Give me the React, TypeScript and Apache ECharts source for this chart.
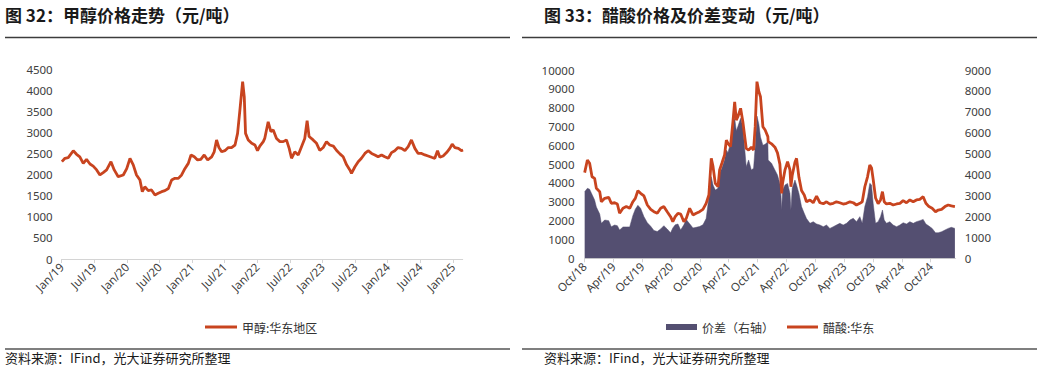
import React, { useEffect, useRef } from "react";
import * as echarts from "echarts";

// ---------- Data: 甲醇:华东地区 (元/吨) ----------
const METHANOL_DATES = [
  "2019-01-02","2019-01-19","2019-02-07","2019-03-05","2019-03-23","2019-04-11","2019-04-30","2019-05-18","2019-06-07","2019-06-25",
  "2019-07-14","2019-08-02","2019-08-20","2019-09-09","2019-10-03","2019-10-21","2019-11-13","2019-12-11","2019-12-30","2020-01-18",
  "2020-02-06","2020-02-24","2020-03-13","2020-03-26","2020-04-10","2020-04-29","2020-05-17","2020-06-06","2020-06-24","2020-07-13",
  "2020-08-01","2020-08-20","2020-09-08","2020-09-26","2020-10-15","2020-11-03","2020-11-21","2020-12-10","2020-12-25","2021-01-13",
  "2021-02-01","2021-02-19","2021-03-08","2021-03-27","2021-04-19","2021-05-03","2021-05-16","2021-05-29","2021-06-14","2021-07-02",
  "2021-07-21","2021-08-09","2021-08-28","2021-09-12","2021-09-25","2021-10-10","2021-10-19","2021-10-26","2021-11-11","2021-11-30",
  "2021-12-18","2022-01-02","2022-01-15","2022-02-04","2022-02-12","2022-03-01","2022-03-16","2022-03-29","2022-04-17","2022-05-06",
  "2022-05-24","2022-06-12","2022-06-27","2022-07-10","2022-07-28","2022-08-17","2022-09-05","2022-09-23","2022-10-06","2022-10-17",
  "2022-11-09","2022-11-28","2022-12-16","2023-01-05","2023-01-23","2023-02-11","2023-03-01","2023-03-19","2023-04-07","2023-04-25",
  "2023-05-14","2023-06-02","2023-06-11","2023-06-30","2023-07-18","2023-08-06","2023-08-25","2023-09-13","2023-10-02","2023-10-20",
  "2023-11-08","2023-11-27","2023-12-15","2024-01-04","2024-01-22","2024-02-10","2024-02-28","2024-03-17","2024-04-06","2024-04-24",
  "2024-05-12","2024-06-01","2024-06-19","2024-07-08","2024-07-26","2024-08-14","2024-09-03","2024-09-21","2024-10-06","2024-10-19",
  "2024-11-07","2024-11-26","2024-12-14","2024-12-27","2025-01-12","2025-01-31","2025-02-18","2025-02-27",
];
const METHANOL_VALUES = [
  2305,2385,2400,2565,2480,2420,2265,2360,2250,2200,
  2110,1990,2045,2110,2305,2110,1950,1990,2140,2385,
  2230,1990,1870,1595,1710,1620,1635,1515,1555,1595,
  1620,1670,1870,1910,1910,1990,2140,2265,2465,2420,
  2345,2360,2465,2345,2420,2540,2820,2640,2540,2565,
  2640,2640,2700,2975,3530,4200,3840,2975,2820,2740,
  2700,2565,2675,2780,2855,3250,3015,3055,2855,2780,
  2780,2820,2620,2385,2540,2465,2660,2855,3275,2900,
  2820,2740,2570,2640,2780,2700,2675,2570,2490,2420,
  2230,2110,2030,2185,2305,2385,2500,2565,2500,2465,
  2420,2465,2420,2385,2520,2565,2640,2620,2565,2660,
  2820,2620,2500,2500,2465,2440,2410,2385,2565,2410,
  2440,2520,2620,2720,2640,2620,2565,2580,
];
const METHANOL_TICKS = ["Jan/19","Jul/19","Jan/20","Jul/20","Jan/21","Jul/21","Jan/22","Jul/22","Jan/23","Jul/23","Jan/24","Jul/24","Jan/25"];

// ---------- Data: 醋酸:华东 (left axis) and 价差 (right axis) ----------
const ACETIC_DATES = [
  "2018-10-02","2018-10-19","2018-11-03","2018-11-18","2018-12-04","2018-12-15","2019-01-06","2019-01-16","2019-02-07","2019-03-02",
  "2019-03-18","2019-04-09","2019-04-26","2019-05-10","2019-06-01","2019-06-22","2019-07-13","2019-08-03","2019-08-18","2019-09-04",
  "2019-09-21","2019-10-12","2019-11-03","2019-11-24","2019-12-14","2020-01-05","2020-01-26","2020-02-16","2020-03-07","2020-03-28",
  "2020-04-12","2020-04-27","2020-05-14","2020-06-01","2020-06-21","2020-07-06","2020-07-27","2020-08-18","2020-09-08","2020-09-29",
  "2020-10-20","2020-11-10","2020-11-27","2020-12-12","2020-12-23","2021-01-07","2021-01-24","2021-02-04","2021-02-18","2021-03-05",
  "2021-03-16","2021-03-26","2021-04-12","2021-04-27","2021-05-08","2021-05-18","2021-05-28","2021-06-15","2021-06-29","2021-07-20",
  "2021-08-05","2021-08-22","2021-09-06","2021-09-16","2021-09-27","2021-10-09","2021-10-19","2021-11-04","2021-11-18","2021-12-05",
  "2021-12-07","2021-12-28","2022-01-19","2022-02-05","2022-02-20","2022-02-26","2022-03-01","2022-03-07","2022-03-22","2022-04-08",
  "2022-04-23","2022-04-29","2022-05-07","2022-05-24","2022-06-04","2022-06-19","2022-07-05","2022-07-22","2022-08-06","2022-08-28",
  "2022-09-18","2022-10-09","2022-10-30","2022-11-21","2022-12-11","2023-01-02","2023-01-23","2023-02-13","2023-03-04","2023-03-25",
  "2023-04-16","2023-05-07","2023-05-28","2023-06-18","2023-07-09","2023-07-24","2023-08-10","2023-08-27","2023-09-11","2023-09-22",
  "2023-10-02","2023-10-17","2023-11-03","2023-11-18","2023-11-30","2023-12-11","2023-12-25","2024-01-16","2024-02-07","2024-02-28",
  "2024-03-19","2024-04-09","2024-04-30","2024-05-21","2024-06-12","2024-07-02","2024-07-23","2024-08-14","2024-09-01","2024-09-20",
  "2024-10-10","2024-11-01","2024-11-18","2024-12-09","2024-12-30","2025-01-20","2025-02-10","2025-03-02",
];
const ACETIC_PRICE = [
  4550,5220,5045,4333,4245,3717,3540,3006,3185,3240,
  2920,2950,2885,2390,2655,2745,2655,3006,3185,3590,
  3450,3310,2830,2600,2475,2390,2655,2745,2475,2210,
  1945,2210,2390,2350,1945,2120,2655,2300,2390,2475,
  2600,2920,3360,5310,4870,3980,3800,4690,5045,5485,
  6280,6105,5930,7250,8310,7340,7520,7965,7250,5840,
  5750,5900,5750,6990,9380,8850,8580,6990,6810,6460,
  6200,6080,5900,5600,5000,4200,3450,4000,4700,5130,
  4700,3800,4400,5100,5310,4300,3600,3360,3000,3100,
  2950,3300,2950,2900,3000,2880,2920,3000,2950,2880,
  2920,3000,2950,2830,2920,3000,3800,4330,4950,4800,
  4200,3200,2900,3100,3540,3006,2885,2920,2830,2885,
  2920,3060,2950,3100,3000,3100,3130,3270,2920,2745,
  2655,2475,2565,2600,2745,2830,2780,2745,
];
const ACETIC_SPREAD = [
  3183,3345,3300,3050,2790,2450,2115,1670,1830,1800,
  1510,1590,1560,1350,1500,1500,1500,2050,2350,2530,
  2390,1990,1700,1530,1330,1280,1400,1560,1400,1220,
  1450,1600,1640,1350,1600,1850,1650,1450,1480,1520,
  1600,1900,2900,3900,3505,3260,3345,4063,4300,4700,
  5175,5050,5500,6530,6690,6100,6300,6690,6290,4380,
  4700,4220,4300,5335,6800,6400,5800,5400,5450,5575,
  4700,4540,4220,3980,3580,3100,2310,3260,3505,3580,
  3100,2310,3345,3740,3505,3100,2470,2150,1900,1670,
  1750,1640,1590,1510,1590,1430,1510,1590,1670,1590,
  1670,1830,1910,1750,1990,1670,2470,2945,3585,3505,
  2630,1670,1750,1990,2310,1830,1670,1750,1590,1510,
  1590,1700,1640,1750,1670,1750,1800,1860,1640,1540,
  1430,1220,1220,1270,1350,1430,1480,1430,
];
const ACETIC_TICKS = ["Oct/18","Apr/19","Oct/19","Apr/20","Oct/20","Apr/21","Oct/21","Apr/22","Oct/22","Apr/23","Oct/23","Apr/24","Oct/24"];

const toMonths = (d: string, by: number, bm: number) => {
  const [y, m, day] = d.split("-").map(Number);
  return (y - by) * 12 + (m - bm) + (day - 1) / 30;
};

const RED = "#c8441f";
const PURPLE = "#544f71";
const CJK = '"Noto Sans CJK SC", "Noto Sans", sans-serif';
const NUM = '"Noto Sans", "Noto Sans CJK SC", sans-serif';

export default function App() {
  const ref = useRef<HTMLDivElement>(null);

  useEffect(() => {
    if (!ref.current) return;
    const chart = echarts.init(ref.current, undefined, { renderer: "svg" });

    const methanolData = METHANOL_DATES.map((d, i) => [toMonths(d, 2019, 1), METHANOL_VALUES[i]]);
    const priceData = ACETIC_DATES.map((d, i) => [toMonths(d, 2018, 10), ACETIC_PRICE[i]]);
    const spreadData = ACETIC_DATES.map((d, i) => [toMonths(d, 2018, 10), ACETIC_SPREAD[i]]);
    const mTicks = METHANOL_TICKS.map((_, i) => i * 6);
    const aTicks = ACETIC_TICKS.map((_, i) => i * 6);

    const axisCommonX = {
      type: "value" as const,
      interval: 6,
      axisLine: { show: true, lineStyle: { color: "#d4d4d4", width: 1 } },
      splitLine: { show: false },
    };
    const yCommon = {
      type: "value" as const,
      axisLine: { show: false },
      axisTick: { show: false },
      splitLine: { show: false },
    };
    const labelStyle = { fontSize: 11.5, color: "#404040", fontFamily: NUM };
    const plain = (v: number) => String(Math.round(v));
    const tickFmt = (labels: string[]) => (v: number) =>
      Math.abs(v / 6 - Math.round(v / 6)) < 1e-6 ? labels[Math.round(v / 6)] || "" : "";
    const legendText = { fontSize: 12, color: "#333", fontFamily: CJK };

    const option: any = {
      animation: false,
      backgroundColor: "#ffffff",
      textStyle: { fontFamily: CJK },
      grid: [
        { left: 61.7, top: 69, width: 401, height: 190 },
        { left: 584.5, top: 70, width: 371.2, height: 188.3 },
      ],
      xAxis: [
        {
          ...axisCommonX,
          gridIndex: 0,
          min: 0,
          max: 73.8,
          axisTick: { show: true, length: 4, lineStyle: { color: "#d4d4d4" }, customValues: mTicks },
          axisLabel: { ...labelStyle, rotate: 45, margin: 6, customValues: mTicks, formatter: tickFmt(METHANOL_TICKS) },
        },
        {
          ...axisCommonX,
          gridIndex: 1,
          min: 0,
          max: 77.2,
          axisTick: { show: true, length: 4, lineStyle: { color: "#d4d4d4" }, customValues: aTicks },
          axisLabel: { ...labelStyle, rotate: 45, margin: 6, customValues: aTicks, formatter: tickFmt(ACETIC_TICKS) },
        },
      ],
      yAxis: [
        { ...yCommon, gridIndex: 0, min: 0, max: 4500, interval: 500, axisLabel: { ...labelStyle, margin: 9, formatter: plain } },
        { ...yCommon, gridIndex: 1, min: 0, max: 10000, interval: 1000, axisLabel: { ...labelStyle, margin: 10, formatter: plain } },
        { ...yCommon, gridIndex: 1, position: "right", min: 0, max: 9000, interval: 1000, axisLabel: { ...labelStyle, margin: 9, formatter: plain } },
      ],
      legend: [
        {
          data: [{ name: "甲醇:华东地区", icon: "rect" }],
          left: 200,
          top: 316,
          itemWidth: 32,
          itemHeight: 3,
          textStyle: legendText,
        },
        {
          data: [{ name: "价差（右轴）", icon: "rect" }],
          left: 661,
          top: 316,
          itemWidth: 31,
          itemHeight: 6,
          textStyle: legendText,
        },
        {
          data: [{ name: "醋酸:华东", icon: "rect" }],
          left: 782,
          top: 316,
          itemWidth: 31,
          itemHeight: 3,
          textStyle: legendText,
        },
      ],
      series: [
        {
          name: "甲醇:华东地区",
          type: "line",
          xAxisIndex: 0,
          yAxisIndex: 0,
          data: methanolData,
          symbol: "none",
          showSymbol: false,
          lineStyle: { color: RED, width: 2.8 },
          itemStyle: { color: RED },
        },
        {
          name: "价差（右轴）",
          type: "line",
          xAxisIndex: 1,
          yAxisIndex: 2,
          data: spreadData,
          symbol: "none",
          showSymbol: false,
          lineStyle: { color: PURPLE, width: 0.5 },
          itemStyle: { color: PURPLE },
          areaStyle: { color: PURPLE, opacity: 1 },
        },
        {
          name: "醋酸:华东",
          type: "line",
          xAxisIndex: 1,
          yAxisIndex: 1,
          data: priceData,
          symbol: "none",
          showSymbol: false,
          lineStyle: { color: RED, width: 2.8 },
          itemStyle: { color: RED },
        },
      ],
      graphic: [
        { type: "text", left: 5, top: 6, style: { text: "图 32：甲醇价格走势（元/吨）", font: `bold 17px ${CJK}`, fill: "#1a1a1a" } },
        { type: "text", left: 544, top: 6, style: { text: "图 33：醋酸价格及价差变动（元/吨）", font: `bold 17px ${CJK}`, fill: "#1a1a1a" } },
        { type: "line", shape: { x1: 5, y1: 37.5, x2: 510, y2: 37.5 }, style: { stroke: "#3c3c3c", lineWidth: 1.5 } },
        { type: "line", shape: { x1: 522, y1: 37.5, x2: 1037, y2: 37.5 }, style: { stroke: "#3c3c3c", lineWidth: 1.5 } },
        { type: "line", shape: { x1: 5, y1: 349, x2: 510, y2: 349 }, style: { stroke: "#555555", lineWidth: 1.5 } },
        { type: "line", shape: { x1: 522, y1: 349, x2: 1037, y2: 349 }, style: { stroke: "#555555", lineWidth: 1.5 } },
        { type: "text", left: 5, top: 351, style: { text: "资料来源：IFind，光大证券研究所整理", font: `13px ${CJK}`, fill: "#1a1a1a" } },
        { type: "text", left: 544, top: 351, style: { text: "资料来源：IFind，光大证券研究所整理", font: `13px ${CJK}`, fill: "#1a1a1a" } },
      ],
    };

    chart.setOption(option);
    return () => chart.dispose();
  }, []);

  return (
    <div
      ref={ref}
      style={{ position: "fixed", left: 0, top: 0, width: 1054, height: 369, background: "#fff" }}
    />
  );
}
